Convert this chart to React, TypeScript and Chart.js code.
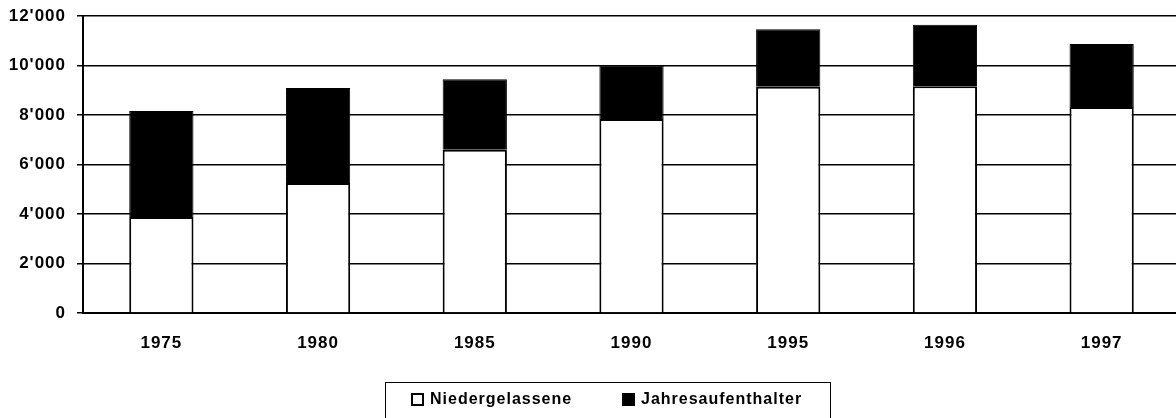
import React, { useEffect, useRef } from "react";
import { Chart, registerables } from "chart.js";

Chart.register(...registerables);

const categories = ["1975", "1980", "1985", "1990", "1995", "1996", "1997"];
const niedergelassene = [3880, 5250, 6600, 7840, 9140, 9160, 8320];
const jahresaufenthalter = [4280, 3840, 2840, 2160, 2320, 2490, 2550];
const seriesLabels = ["Niedergelassene", "Jahresaufenthalter"];
const yTicks = [0, 2000, 4000, 6000, 8000, 10000, 12000];

const FONT = "'Liberation Sans', Arial, sans-serif";

function fmt(v: number): string {
  const s = String(Math.round(v));
  return s.replace(/\B(?=(\d{3})+(?!\d))/g, "'");
}

const spacingPlugin = {
  id: "spacing",
  beforeUpdate(chart: any) {
    chart.ctx.letterSpacing = "1px";
  },
  beforeDraw(chart: any) {
    chart.ctx.letterSpacing = "1px";
  },
};

const legendPlugin = {
  id: "boxLegend",
  afterDraw(chart: any) {
    const ctx = chart.ctx;
    ctx.save();
    ctx.letterSpacing = "1px";
    ctx.strokeStyle = "#000";
    ctx.lineWidth = 1;
    ctx.strokeRect(385.5, 382.5, 445, 60);
    const xs = [412, 623];
    chart.data.datasets.forEach((ds: any, i: number) => {
      const x = xs[i];
      const y = 394;
      ctx.fillStyle = ds.backgroundColor;
      ctx.fillRect(x, y, 11, 11);
      ctx.strokeStyle = "#000";
      ctx.lineWidth = 2;
      ctx.strokeRect(x, y, 11, 11);
      ctx.fillStyle = "#000";
      ctx.font = `bold 16px ${FONT}`;
      ctx.textBaseline = "middle";
      ctx.textAlign = "left";
      ctx.fillText(ds.label, x + 18, y + 6);
    });
    ctx.restore();
  },
};

export default function App() {
  const ref = useRef<HTMLCanvasElement | null>(null);
  useEffect(() => {
    if (!ref.current) return;
    const chart = new Chart(ref.current, {
      type: "bar",
      data: {
        labels: categories,
        datasets: [
          {
            label: seriesLabels[0],
            data: niedergelassene,
            backgroundColor: "#ffffff",
            borderColor: "#000000",
            borderWidth: 2,
            barPercentage: 0.41,
            categoryPercentage: 1,
          },
          {
            label: seriesLabels[1],
            data: jahresaufenthalter,
            backgroundColor: "#000000",
            borderColor: "#000000",
            borderWidth: 1,
            barPercentage: 0.41,
            categoryPercentage: 1,
          },
        ],
      },
      options: {
        animation: false,
        responsive: false,
        events: [],
        layout: { padding: { top: 16, right: 4, bottom: 0, left: 0 } },
        plugins: { legend: { display: false }, tooltip: { enabled: false } },
        scales: {
          x: {
            stacked: true,
            grid: { display: true, drawOnChartArea: false, drawTicks: false, color: "#000" },
            border: { display: true, color: "#000", width: 2 },
            ticks: { color: "#000", font: { family: FONT, size: 17, weight: "bold" }, padding: 20 },
            afterFit(scale: any) {
              scale.height = 105;
            },
          },
          y: {
            stacked: true,
            min: 0,
            max: 12000,
            afterBuildTicks(scale: any) {
              scale.ticks = yTicks.map((v) => ({ value: v }));
            },
            grid: { color: "#000", lineWidth: 1.5, tickLength: 6 },
            border: { display: true, color: "#000", width: 2 },
            ticks: {
              color: "#000",
              font: { family: FONT, size: 17, weight: "bold", lineHeight: 0.9 },
              padding: 11,
              callback: (v: any) => fmt(Number(v)),
            },
            afterFit(scale: any) {
              scale.width = 83;
              scale.paddingTop = 0;
              scale.paddingBottom = 0;
            },
          },
        },
      },
      plugins: [spacingPlugin, legendPlugin],
    });
    return () => chart.destroy();
  }, []);
  return (
    <div style={{ position: "fixed", left: 0, top: 0, width: 1176, height: 418, overflow: "hidden", background: "#fff" }}>
      <canvas ref={ref} width={1184} height={418} style={{ display: "block" }} />
    </div>
  );
}
